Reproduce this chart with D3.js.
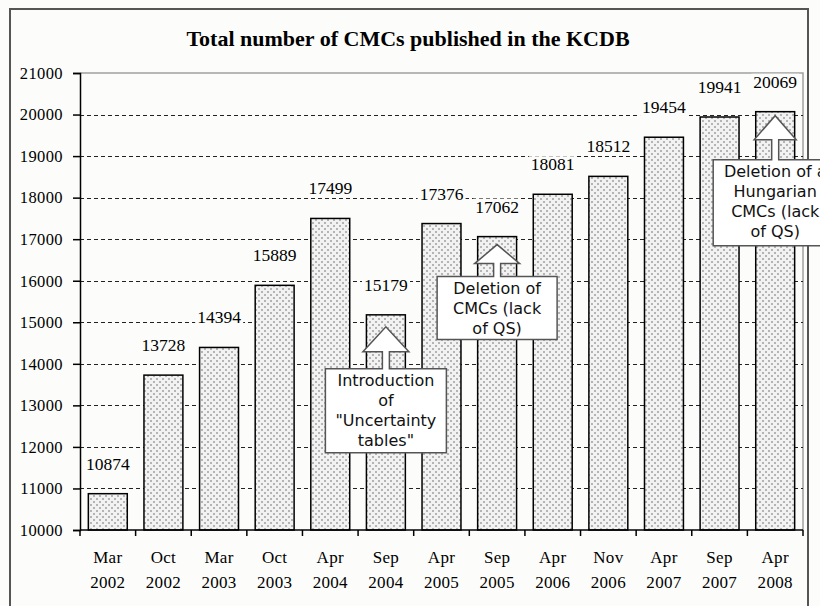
<!DOCTYPE html>
<html>

<head>
    <meta charset="utf-8">
    <title>Total number of CMCs published in the KCDB</title>
    <script src="https://d3js.org/d3.v7.min.js" charset="utf-8"></script>
    <style>
        body { margin: 0; background: #fcfdfb; }
        svg { display: block; }
    </style>
</head>

<body>
    <script type="text/javascript">

        const categories = ["Mar 2002", "Oct 2002", "Mar 2003", "Oct 2003", "Apr 2004", "Sep 2004", "Apr 2005",
            "Sep 2005", "Apr 2006", "Nov 2006", "Apr 2007", "Sep 2007", "Apr 2008"];
        const values = [10874, 13728, 14394, 15889, 17499, 15179, 17376, 17062, 18081, 18512, 19454, 19941, 20069];
        const yTicks = [10000, 11000, 12000, 13000, 14000, 15000, 16000, 17000, 18000, 19000, 20000, 21000];

        const calloutCats = ["Sep 2004", "Sep 2005", "Apr 2008"];
        const calloutTexts = [
            ["Introduction", "of", "\"Uncertainty", "tables\""],
            ["Deletion of", "CMCs (lack", "of QS)"],
            ["Deletion of a", "Hungarian", "CMCs (lack", "of QS)"]
        ];

        const dataset = categories.map((c, i) => ({ cat: c, value: values[i] }));

        const w = 820;
        const h = 606;
        const plot = { left: 80, right: 803, top: 73, bottom: 530 };
        const bg = "#fcfdfb";
        const serif = "'Liberation Serif', 'Times New Roman', serif";

        const svg = d3.select("body")
            .append("svg")
            .attr("width", w)
            .attr("height", h)
            .style("background", bg);

        // dotted fill of the bars
        const pat = svg.append("defs").append("pattern")
            .attr("id", "dots")
            .attr("patternUnits", "userSpaceOnUse")
            .attr("width", 6)
            .attr("height", 6);
        pat.append("rect").attr("width", 6).attr("height", 6).attr("fill", "#f2f2f2");
        pat.append("rect").attr("x", 0).attr("y", 0).attr("width", 2).attr("height", 2).attr("fill", "#b4b4b4");
        pat.append("rect").attr("x", 3).attr("y", 3).attr("width", 2).attr("height", 2).attr("fill", "#b4b4b4");

        // outer frame
        svg.append("rect")
            .attr("x", 10)
            .attr("y", 9)
            .attr("width", 798)
            .attr("height", 620)
            .attr("fill", "none")
            .attr("stroke", "#555")
            .attr("stroke-width", 2);

        svg.append("text")
            .attr("x", 408)
            .attr("y", 46)
            .attr("text-anchor", "middle")
            .style("font-family", serif)
            .style("font-weight", "bold")
            .style("font-size", "22px")
            .text("Total number of CMCs published in the KCDB");

        const xScale = d3.scaleBand()
            .domain(categories)
            .range([plot.left, plot.right])
            .paddingInner(0.3)
            .paddingOuter(0.15);

        const yScale = d3.scaleLinear()
            .domain([10000, 21000])
            .range([plot.bottom, plot.top]);

        // plot area border (top and right)
        svg.append("path")
            .attr("d", `M${plot.left},${plot.top}H${plot.right}V${plot.bottom}`)
            .attr("fill", "none")
            .attr("stroke", "#a0a0a0")
            .attr("stroke-width", 1.5);

        // dashed gridlines
        svg.append("g")
            .selectAll("line")
            .data(yTicks.filter(t => t > 10000 && t < 21000))
            .enter()
            .append("line")
            .attr("x1", plot.left)
            .attr("x2", plot.right)
            .attr("y1", d => Math.round(yScale(d)) + 0.5)
            .attr("y2", d => Math.round(yScale(d)) + 0.5)
            .attr("stroke", "#222")
            .attr("stroke-dasharray", "4,3");

        // y axis
        const yAxis = d3.axisLeft(yScale)
            .tickValues(yTicks)
            .tickSize(7)
            .tickPadding(10)
            .tickFormat(d3.format("d"));

        const gy = svg.append("g")
            .attr("transform", "translate(" + plot.left + ",0)")
            .call(yAxis);
        gy.select(".domain").attr("stroke", "#000").attr("stroke-width", 1.5);
        gy.selectAll(".tick line").attr("stroke", "#000").attr("stroke-width", 1.5);
        gy.selectAll(".tick text")
            .style("font-family", serif)
            .style("font-size", "16.5px")
            .style("letter-spacing", "0.4px")
            .attr("fill", "#000");

        // bars
        svg.selectAll("rect.bar")
            .data(dataset)
            .enter()
            .append("rect")
            .attr("class", "bar")
            .attr("x", d => xScale(d.cat))
            .attr("y", d => yScale(d.value))
            .attr("width", xScale.bandwidth())
            .attr("height", d => plot.bottom - yScale(d.value))
            .attr("fill", "url(#dots)")
            .attr("stroke", "#000")
            .attr("stroke-width", 1.5);

        // x axis with ticks between categories
        const step = xScale.step();
        const gx = svg.append("g");
        gx.append("line")
            .attr("x1", plot.left)
            .attr("x2", plot.right)
            .attr("y1", plot.bottom)
            .attr("y2", plot.bottom)
            .attr("stroke", "#000")
            .attr("stroke-width", 1.5);
        gx.selectAll("line.tk")
            .data(d3.range(categories.length + 1))
            .enter()
            .append("line")
            .attr("class", "tk")
            .attr("x1", i => plot.left + i * step)
            .attr("x2", i => plot.left + i * step)
            .attr("y1", plot.bottom)
            .attr("y2", plot.bottom + 6)
            .attr("stroke", "#000")
            .attr("stroke-width", 1.5);

        const catLabel = gx.selectAll("text")
            .data(categories)
            .enter()
            .append("text")
            .attr("text-anchor", "middle")
            .style("font-family", serif)
            .style("font-size", "17px")
            .style("letter-spacing", "0.3px");
        catLabel.append("tspan")
            .attr("x", d => xScale(d) + xScale.bandwidth() / 2)
            .attr("y", 563)
            .text(d => d.split(" ")[0]);
        catLabel.append("tspan")
            .attr("x", d => xScale(d) + xScale.bandwidth() / 2)
            .attr("y", 588)
            .text(d => d.split(" ")[1]);

        // value labels with background
        const vl = svg.selectAll("g.vlabel")
            .data(dataset)
            .enter()
            .append("g")
            .attr("class", "vlabel");
        vl.append("rect").attr("fill", bg);
        vl.append("text")
            .attr("x", d => xScale(d.cat) + xScale.bandwidth() / 2)
            .attr("y", d => yScale(d.value) - 24)
            .attr("text-anchor", "middle")
            .style("font-family", serif)
            .style("font-size", "17.5px")
            .text(d => d.value);
        vl.each(function () {
            const b = d3.select(this).select("text").node().getBBox();
            d3.select(this).select("rect")
                .attr("x", b.x - 2)
                .attr("y", b.y + 2)
                .attr("width", b.width + 4)
                .attr("height", b.height - 3);
        });

        // up-arrow callouts
        const calloutGeo = [
            { tip: 12, head: 25, stem: 17, headW: 46, boxW: 121, boxH: 84 },
            { tip: 8, head: 19, stem: 13, headW: 45, boxW: 120, boxH: 63 },
            { tip: 4, head: 24, stem: 20, headW: 42, boxW: 124, boxH: 86 }
        ];
        const shaft = 3.5;

        calloutCats.forEach((cat, i) => {
            const g = calloutGeo[i];
            const v = values[categories.indexOf(cat)];
            const cx = xScale(cat) + xScale.bandwidth() / 2;
            const apex = yScale(v) + g.tip;
            const hb = apex + g.head;
            const bt = hb + g.stem;
            const bl = cx - g.boxW / 2, br = cx + g.boxW / 2;
            const path = d3.path();
            path.moveTo(bl, bt);
            path.lineTo(cx - shaft, bt);
            path.lineTo(cx - shaft, hb);
            path.lineTo(cx - g.headW / 2, hb);
            path.lineTo(cx, apex);
            path.lineTo(cx + g.headW / 2, hb);
            path.lineTo(cx + shaft, hb);
            path.lineTo(cx + shaft, bt);
            path.lineTo(br, bt);
            path.lineTo(br, bt + g.boxH);
            path.lineTo(bl, bt + g.boxH);
            path.closePath();
            svg.append("path")
                .attr("d", path.toString())
                .attr("fill", "#fff")
                .attr("stroke", "#555")
                .attr("stroke-width", 1.5);

            const lines = calloutTexts[i];
            const t = svg.append("text")
                .attr("text-anchor", "middle")
                .style("font-family", "'DejaVu Sans', Verdana, sans-serif")
                .style("font-size", "16px")
                .attr("fill", "#111");
            lines.forEach((ln, j) => {
                t.append("tspan")
                    .attr("x", cx)
                    .attr("y", bt + 17 + j * 20)
                    .text(ln);
            });
        });

    </script>
</body>

</html>
